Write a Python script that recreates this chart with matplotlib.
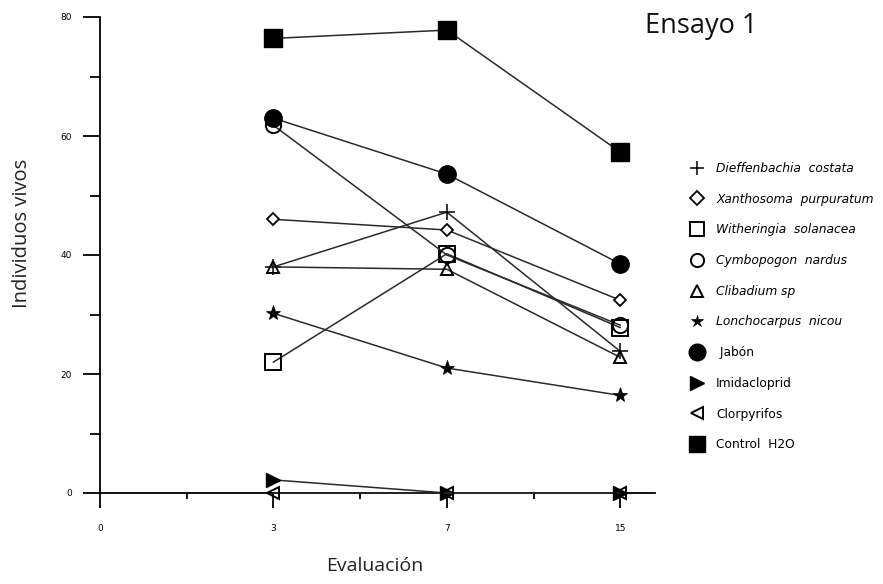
import matplotlib
matplotlib.use("Agg")
import matplotlib.pyplot as plt
from matplotlib.ticker import FixedLocator

# ---- data ----
tick_labels = ["0", "3", "7", "15"]
eval_days = ["3", "7", "15"]

series_names = [
    "Dieffenbachia  costata",
    "Xanthosoma  purpuratum",
    "Witheringia  solanacea",
    "Cymbopogon  nardus",
    "Clibadium sp",
    "Lonchocarpus  nicou",
    " Jabón",
    "Imidacloprid",
    "Clorpyrifos",
    "Control  H2O",
]
dieffenbachia = [38, 47.2, 23.8]
xanthosoma = [46, 44.2, 32.4]
witheringia = [22, 40.2, 27.8]
cymbopogon = [61.8, 40.0, 28.2]
clibadium = [38, 37.6, 22.8]
lonchocarpus = [30.2, 21, 16.4]
jabon = [63, 53.6, 38.5]
imidacloprid = [2.2, 0, 0]
clorpyrifos = [0, 0, 0]
control_h2o = [76.4, 77.8, 57.3]

values = [dieffenbachia, xanthosoma, witheringia, cymbopogon, clibadium,
          lonchocarpus, jabon, imidacloprid, clorpyrifos, control_h2o]
italic = [True, True, True, True, True, True, False, False, False, False]

styles = [
    dict(marker="+", ms=11, mfc="none", mew=1.1),
    dict(marker="D", ms=6.5, mfc="white", mew=1.3),
    dict(marker="s", ms=11.5, mfc="none", mew=1.4),
    dict(marker="o", ms=11, mfc="none", mew=1.4),
    dict(marker="^", ms=9, mfc="none", mew=1.4),
    dict(marker="*", ms=11, mfc="black", mew=0.5),
    dict(marker="o", ms=12.5, mfc="black", mew=1),
    dict(marker=">", ms=10, mfc="black", mew=1),
    dict(marker="<", ms=9, mfc="none", mew=1.4),
    dict(marker="s", ms=13.5, mfc="black", mew=1),
]
legend_ms = [10, 7, 9.5, 9.5, 8, 9, 12, 10, 9, 11]

fig = plt.figure(figsize=(8.83, 5.84), dpi=100)
ax = fig.add_axes([100 / 883, 1 - 493 / 584, (655 - 100) / 883, (493 - 17) / 584])

xpos = [tick_labels.index(d) for d in eval_days]
handles = []
for name, vals, st in zip(series_names, values, styles):
    h, = ax.plot(xpos, vals, color="#2a2a2a", lw=1.1, mec="black",
                 clip_on=False, zorder=3, label=name, **st)
    handles.append(h)

ax.set_xlim(0, 3.2)
ax.set_ylim(0, 80)
for s in ["top", "right"]:
    ax.spines[s].set_visible(False)
ax.spines["left"].set_linewidth(1.3)
ax.spines["bottom"].set_linewidth(1.3)

ax.set_xticks(range(len(tick_labels)))
ax.set_xticklabels(tick_labels)
ax.xaxis.set_minor_locator(FixedLocator([0.5, 1.5, 2.5]))
ax.set_yticks([0, 20, 40, 60, 80])
ax.yaxis.set_minor_locator(FixedLocator([10, 30, 50, 70]))
ax.tick_params(axis="y", which="major", length=12, width=1.3, labelsize=6.5, pad=8)
ax.tick_params(axis="y", which="minor", length=7, width=1.3)
ax.tick_params(axis="x", which="major", length=11, width=1.3, labelsize=6.5, pad=11)
ax.tick_params(axis="x", which="minor", length=4, width=1.3)

fig.text(375 / 883, 1 - 566 / 584, "Evaluación", fontsize=14, family="Open Sans",
         ha="center", va="center", color="#222222")
fig.text(22 / 883, 1 - 233 / 584, "Individuos vivos", fontsize=14.5, family="Open Sans",
         ha="center", va="center", rotation=90, color="#222222")

fig.text(645 / 883, 1 - 26 / 584, "Ensayo 1", fontsize=19.5, family="Open Sans",
         va="center", ha="left", color="#111111")

leg = fig.legend(handles=handles, loc="upper left",
                 bbox_to_anchor=(687 / 883, 1 - 157 / 584),
                 frameon=False, fontsize=8.8, handlelength=0.9,
                 handletextpad=1.08, labelspacing=1.45, borderaxespad=0)
for t, it in zip(leg.get_texts(), italic):
    if it:
        t.set_fontstyle("italic")
for lh, ms in zip(leg.legend_handles, legend_ms):
    lh.set_linestyle("none")
    lh.set_markersize(ms)

fig.savefig("out.png", dpi=100)
